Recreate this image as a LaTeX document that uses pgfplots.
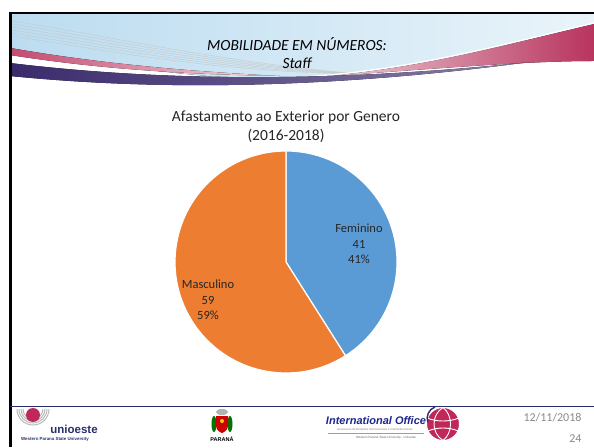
\documentclass[border=0pt]{standalone}
\usepackage{pgfplots}
\pgfplotsset{compat=1.18}
\usepackage{pgfplotstable}
\usepackage{fontspec}
\setmainfont{Carlito}
\newfontfamily\arialfont{Liberation Sans}
\definecolor{fem}{HTML}{5B9BD5}
\definecolor{masc}{HTML}{ED7D31}
\definecolor{txt}{HTML}{262626}
\definecolor{skyA}{HTML}{BBDCF0}
\definecolor{skyB}{HTML}{EAF4FA}
\definecolor{ribred}{HTML}{B8345E}
\definecolor{ribpink}{HTML}{C44A70}
\definecolor{ribpurple}{HTML}{3A2A6C}
\definecolor{navy}{HTML}{27306E}
\definecolor{crimson}{HTML}{C0285A}
\definecolor{dategray}{HTML}{8A8A8A}

\pgfplotstableread{
label value
Feminino 41
Masculino 59
}\piedata

\begin{document}
\begin{tikzpicture}
\pgfplotstablegetelem{0}{value}\of\piedata \pgfmathtruncatemacro{\vF}{\pgfplotsretval}
\pgfplotstablegetelem{1}{value}\of\piedata \pgfmathtruncatemacro{\vM}{\pgfplotsretval}
\pgfmathtruncatemacro{\pF}{round(100*\vF/(\vF+\vM))}
\pgfmathtruncatemacro{\pM}{round(100*\vM/(\vF+\vM))}
\pgfmathsetmacro{\aF}{90-360*\vF/(\vF+\vM)}
\useasboundingbox (0,0) rectangle (594pt,447pt);
\fill[white] (0,0) rectangle (594pt,447pt);
\begin{scope}[x=1pt,y=-1pt,shift={(0,447pt)}]
  % sky
  \fill[left color=skyA,right color=skyB] (10,13) -- (594,13) -- (594,25)
     .. controls (500,45) and (420,68) .. (300,78)
     .. controls (200,82) and (90,62) .. (10,48) -- cycle;
  % faint lines
  \foreach \i in {0,...,5}{
    \draw[gray!45,line width=0.35pt] (12,21+3*\i) .. controls (120,38+3*\i) and (220,62+2*\i) .. (360,74);
  }
  % red ribbon right
  \fill[left color=white!85!ribred,right color=ribred] (290,79)
     .. controls (410,72) and (500,46) .. (594,24) -- (594,61)
     .. controls (520,61) and (420,70) .. (290,79) -- cycle;
  \draw[white,line width=1.2pt] (290,78) .. controls (410,71) and (500,45) .. (594,23);
  % pink ribbon left
  \fill[left color=ribpink,right color=white!80!ribpink] (10,48)
     .. controls (80,60) and (160,70) .. (280,76)
     .. controls (160,74) and (80,66) .. (10,55) -- cycle;
  % purple ribbon
  \fill[left color=ribpurple,right color=ribpurple!60!white] (10,63)
     .. controls (150,80) and (320,84) .. (530,62)
     .. controls (320,90) and (150,90) .. (10,76) -- cycle;
  % frame
  \draw[black,line width=2.2pt] (9,13) -- (594,13);
  \draw[black,line width=2.4pt] (10.5,12) -- (10.5,447);
  \draw[navy,line width=1pt] (10,406) -- (594,406);
  % header title
  \node[font=\fontsize{15.5}{18.5}\selectfont\itshape,text=black,align=center] at (297,53)
     {MOBILIDADE EM NÚMEROS:\\Staff};
  % unioeste logo
  \foreach \r in {10,12,14,16}{
    \draw[gray!55,line width=1pt] (33-\r,409) arc[start angle=180,end angle=0,radius=\r];
  }
  \fill[crimson] (33,415) circle (7);
  \node[font=\arialfont\fontsize{11.5}{12}\selectfont\bfseries,text=navy] at (74,429) {unioeste};
  \node[font=\arialfont\fontsize{4.4}{5}\selectfont\bfseries,text=navy] at (55,439.5) {Western Parana State University};
  % Parana coat of arms
  \fill[green!45!black] (214,424) ellipse (2.5 and 8);
  \fill[green!45!black] (230,424) ellipse (2.5 and 8);
  \fill[gray!60] (222,412) ellipse (6 and 3);
  \fill[red!80!black] (216,416) -- (228,416) -- (228,426) .. controls (228,431) and (222,433) .. (222,433) .. controls (222,433) and (216,431) .. (216,426) -- cycle;
  \fill[yellow!70!orange] (222,421) circle (2);
  \node[font=\arialfont\fontsize{5.5}{6}\selectfont\bfseries,text=black] at (222,439) {PARANÁ};
  % International Office
  \node[font=\arialfont\fontsize{11}{12}\selectfont\bfseries\itshape,text=navy!80!blue] at (376,421) {International Office};
  \node[font=\arialfont\fontsize{2.9}{3.5}\selectfont,text=gray] at (375,430) {Assessoria de Relações Internacionais e Interinstitucionais};
  \draw[crimson!60,line width=0.4pt] (328,433.5) -- (424,433.5);
  \node[font=\arialfont\fontsize{3.1}{3.5}\selectfont,text=gray!80!black] at (386,438) {Western Paraná State University - Unioeste};
  \fill[crimson] (443,424) circle (16.5);
  \draw[white,line width=1pt] (443,424) circle (16.5);
  \draw[white,line width=0.9pt] (443,407.5) .. controls (431,415) and (431,433) .. (443,440.5);
  \draw[white,line width=0.9pt] (443,407.5) .. controls (453,415) and (453,433) .. (443,440.5);
  \draw[white,line width=0.9pt] (427,418) .. controls (437,422) and (449,422) .. (459,418);
  \draw[white,line width=0.9pt] (428,431) .. controls (437,427) and (449,427) .. (458,431);
  \draw[navy,line width=1.4pt] (435,407) arc[start angle=250,end angle=160,radius=12];
  % date and page
  \node[font=\fontsize{12}{14}\selectfont,text=dategray,anchor=east] at (585,418) {12/11/2018};
  \node[font=\fontsize{12}{14}\selectfont,text=dategray,anchor=east] at (585,439) {24};
\end{scope}
\begin{axis}[at={(0,0)},anchor=south west,x=1pt,y=1pt,xmin=0,xmax=594,ymin=0,ymax=447,
  hide axis,clip=false]
  \fill[fem,draw=white,line width=1.2pt] (axis cs:286,185) -- ++(90:111pt)
     arc[start angle=90,end angle=\aF,radius=111pt] -- cycle;
  \fill[masc,draw=white,line width=1.2pt] (axis cs:286,185) -- ++(\aF:111pt)
     arc[start angle=\aF,end angle=-270,radius=111pt] -- cycle;
  \node[font=\fontsize{15.5}{18.6}\selectfont,text=txt,align=center] at (axis cs:286,320)
     {Afastamento ao Exterior por Genero\\(2016-2018)};
  \node[font=\fontsize{12.5}{15.5}\selectfont,text=txt,align=center] at (axis cs:359,203)
     {Feminino\\\vF\\\pF\%};
  \node[font=\fontsize{12.5}{15.5}\selectfont,text=txt,align=center] at (axis cs:208,147)
     {Masculino\\\vM\\\pM\%};
\end{axis}
\end{tikzpicture}
\end{document}
